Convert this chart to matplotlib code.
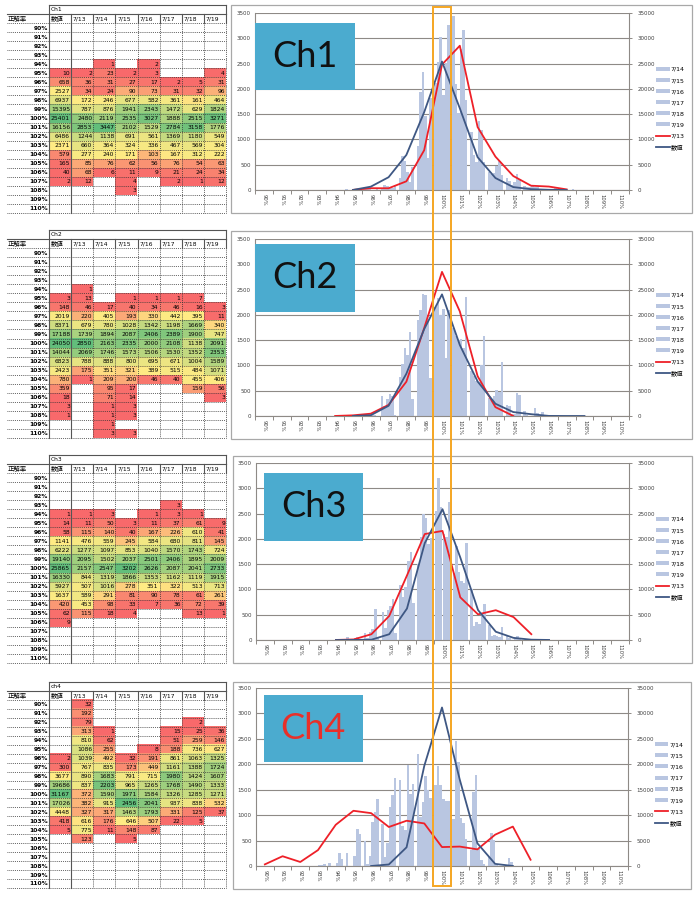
import numpy as np
import matplotlib
matplotlib.use('Agg')
import matplotlib.pyplot as plt
import matplotlib.transforms as mtransforms
from matplotlib.patches import Rectangle

plt.rcParams['font.family'] = ['DejaVu Sans', 'Noto Sans CJK JP']

N = None
rates = ['90%', '91%', '92%', '93%', '94%', '95%', '96%', '97%', '98%', '99%', '100%',
         '101%', '102%', '103%', '104%', '105%', '106%', '107%', '108%', '109%', '110%']
dates = ['7/13', '7/14', '7/15', '7/16', '7/17', '7/18', '7/19']

# Ch1
ch1_total = [N, N, N, N, N, 10, 658, 2527, 6937, 15395, 25401, 16156, 6486, 2371, 579, 165, 40, 2, N, N, N]
ch1_0713 = [N, N, N, N, N, 2, 36, 34, 172, 787, 2480, 2853, 1244, 660, 277, 85, 68, 12, N, N, N]
ch1_0714 = [N, N, N, N, 1, 23, 31, 24, 246, 876, 2119, 3447, 1138, 364, 240, 76, 6, N, N, N, N]
ch1_0715 = [N, N, N, N, N, 2, 27, 90, 677, 1941, 2535, 2102, 691, 324, 171, 62, 11, 4, 3, N, N]
ch1_0716 = [N, N, N, N, 2, 3, 17, 73, 582, 2343, 3027, 1529, 561, 336, 103, 56, 9, N, N, N, N]
ch1_0717 = [N, N, N, N, N, N, 2, 31, 361, 1472, 1888, 2784, 1369, 467, 167, 76, 21, 2, N, N, N]
ch1_0718 = [N, N, N, N, N, N, 5, 32, 161, 629, 2515, 3158, 1180, 569, 312, 54, 24, 1, N, N, N]
ch1_0719 = [N, N, N, N, N, 4, 31, 96, 464, 1824, 3271, 1776, 549, 304, 222, 63, 34, 12, N, N, N]

# Ch2
ch2_total = [N, N, N, N, N, 3, 148, 2019, 8371, 17188, 24050, 14044, 6823, 2423, 780, 359, 18, 3, 1, N, N]
ch2_0713 = [N, N, N, N, 1, 13, 46, 220, 679, 1739, 2850, 2069, 788, 175, 1, N, N, N, N, N, N]
ch2_0714 = [N, N, N, N, N, N, 17, 405, 780, 1894, 2163, 1746, 888, 351, 209, 95, 71, 1, 1, 1, 3]
ch2_0715 = [N, N, N, N, N, 1, 40, 193, 1028, 2087, 2335, 1573, 800, 321, 200, 17, 14, 3, 3, N, 3]
ch2_0716 = [N, N, N, N, N, 1, 34, 330, 1342, 2406, 2000, 1506, 695, 389, 46, N, N, N, N, N, N]
ch2_0717 = [N, N, N, N, N, 1, 46, 442, 1198, 2389, 2108, 1530, 671, 515, 40, N, N, N, N, N, N]
ch2_0718 = [N, N, N, N, N, 7, 16, 395, 1669, 1900, 1138, 1352, 1004, 484, 455, 159, N, N, N, N, N]
ch2_0719 = [N, N, N, N, N, N, 3, 11, 340, 747, 2091, 2353, 1589, 1071, 406, 56, 3, N, N, N, N]

# Ch3
ch3_total = [N, N, N, N, 1, 14, 58, 1141, 6222, 19140, 25865, 16330, 5927, 1637, 420, 62, 9, N, N, N, N]
ch3_0713 = [N, N, N, N, 1, 11, 115, 476, 1277, 2095, 2157, 844, 507, 589, 453, 115, N, N, N, N, N]
ch3_0714 = [N, N, N, N, 3, 50, 140, 559, 1097, 1502, 2547, 1319, 1016, 291, 98, 18, N, N, N, N, N]
ch3_0715 = [N, N, N, N, N, 3, 40, 245, 853, 2037, 3202, 1866, 278, 81, 33, 4, N, N, N, N, N]
ch3_0716 = [N, N, N, N, 1, 11, 167, 584, 1040, 2501, 2626, 1353, 351, 90, 7, N, N, N, N, N, N]
ch3_0717 = [N, N, N, 3, 3, 37, 226, 680, 1570, 2406, 2087, 1162, 322, 78, 36, N, N, N, N, N, N]
ch3_0718 = [N, N, N, N, 1, 61, 610, 811, 1743, 1895, 2041, 1119, 513, 61, 72, 13, N, N, N, N, N]
ch3_0719 = [N, N, N, N, N, 9, 41, 145, 724, 2009, 2733, 1915, 713, 261, 39, 1, N, N, N, N, N]

# Ch4
ch4_total = [N, N, N, N, N, N, 2, 300, 3677, 19686, 31167, 17026, 4448, 418, 5, N, N, N, N, N, N]
ch4_0713 = [32, 192, 79, 313, 810, 1086, 1039, 767, 890, 837, 372, 382, 327, 616, 775, 123, N, N, N, N, N]
ch4_0714 = [N, N, N, 1, 62, 255, 492, 835, 1683, 2203, 1590, 915, 317, 176, 11, N, N, N, N, N, N]
ch4_0715 = [N, N, N, N, N, N, 32, 173, 791, 965, 1971, 2456, 1463, 646, 148, 5, N, N, N, N, N]
ch4_0716 = [N, N, N, N, N, 8, 191, 449, 715, 1265, 1584, 2041, 1793, 507, 87, N, N, N, N, N, N]
ch4_0717 = [N, N, N, 15, 51, 188, 861, 1161, 1980, 1768, 1326, 937, 331, 22, N, N, N, N, N, N, N]
ch4_0718 = [N, N, 2, 25, 259, 736, 1063, 1388, 1424, 1490, 1285, 838, 125, 5, N, N, N, N, N, N, N]
ch4_0719 = [N, N, N, 36, 146, 627, 1325, 1724, 1607, 1333, 1271, 532, 37, N, N, N, N, N, N, N, N]

W, H = 700, 907
BAR = '#B9C6E1'
RED = '#EE2028'
NAVY = '#3E5783'
GRID = '#8E8A86'
C_LO = np.array([248, 105, 107]) / 255
C_MID = np.array([255, 235, 132]) / 255
C_HI = np.array([99, 190, 123]) / 255

fig = plt.figure(figsize=(7, 9.07), dpi=100)


def px_axes(left, top, right, bottom):
    return fig.add_axes([left / W, 1 - bottom / H, (right - left) / W, (bottom - top) / H])


def frame(left, top, right, bottom):
    fig.add_artist(Rectangle((left / W, 1 - bottom / H), (right - left) / W, (bottom - top) / H,
                             transform=fig.transFigure, fill=False, ec='#A8A8A8', lw=0.9))


def arr(vals):
    return np.array([np.nan if v is None else v for v in vals], dtype=float)


def color_scale(columns):
    # excel style 3-colour scale, min / 50th percentile / max
    vals = [v for c in columns for v in c if v is not None]
    lo, mid, hi = min(vals), np.percentile(vals, 50), max(vals)
    out = []
    for c in columns:
        col = []
        for v in c:
            if v is None:
                col.append(np.ones(3))
            elif v <= mid:
                t = (v - lo) / (mid - lo) if mid > lo else 1.0
                col.append(C_LO + t * (C_MID - C_LO))
            else:
                t = (v - mid) / (hi - mid)
                col.append(C_MID + t * (C_HI - C_MID))
        out.append(col)
    return out


def draw_table(ax, title, total, days):
    cols = [total] + days
    img = np.ones((21, 8, 3))
    img[:, 0] = np.array(color_scale([total])[0])
    for j, col in enumerate(color_scale(days)):
        img[:, j + 1] = np.array(col)
    ax.imshow(img, extent=(0, 8, 21, 0), aspect='auto', interpolation='nearest', zorder=0)
    ax.set_xlim(-1.9, 8)
    ax.set_ylim(21, -2)
    ax.axis('off')

    dotted = dict(color='#333333', lw=0.6, ls=(0, (1, 1.3)), clip_on=False)
    solid = dict(color='#555555', lw=0.8, clip_on=False)
    for r in range(22):
        ax.plot([-1.9, 8], [r, r], **dotted)
    for c in range(2, 9):
        ax.plot([c, c], [0, 21], **dotted)
        ax.plot([c, c], [-1, 0], **solid)
    ax.plot([0, 0], [-2, 21], **solid)
    ax.plot([1, 1], [-1, 21], **solid)
    ax.plot([0, 8], [-2, -2], **solid)
    ax.plot([-1.9, 8], [-1, -1], **solid)
    ax.plot([8, 8], [-2, -1], **solid)

    fs = 4.3
    ax.text(0.08, -1.45, title, ha='left', va='center', fontsize=fs)
    ax.text(-1.85, -0.45, '正解率', ha='left', va='center', fontsize=fs + 0.3)
    ax.text(0.06, -0.45, '数値', ha='left', va='center', fontsize=fs + 0.3)
    for j, d in enumerate(dates):
        ax.text(j + 1.08, -0.45, d, ha='left', va='center', fontsize=fs)
    for r, lab in enumerate(rates):
        ax.text(-0.05, r + 0.55, lab, ha='right', va='center', fontsize=fs, fontweight='bold')
        for c, col in enumerate(cols):
            if col[r] is not None:
                ax.text(c + 0.95, r + 0.55, str(col[r]), ha='right', va='center', fontsize=fs)


def draw_chart(ax, total, d13, days, name, name_color, box):
    x = np.arange(len(rates))
    width = 0.86 / 6
    bars = []
    for i, vals in enumerate(days):
        b = ax.bar(x + (i - 2.5) * width, arr(vals), width, color=BAR, lw=0, zorder=2)
        bars.append(b)
    red_line, = ax.plot(x, arr(d13), color=RED, lw=1.3, zorder=4)
    ax.set_xlim(-0.5, 20.5)
    ax.set_ylim(0, 3500)
    ax.set_yticks(range(0, 3501, 500))
    ax.grid(axis='y', color=GRID, lw=0.8, zorder=1)
    ax.set_axisbelow(True)
    ax.set_xticks(x)
    ax.set_xticklabels(rates, rotation=-90, fontsize=3.8, color='#404040')
    ax.set_xticks(np.arange(-0.5, 21, 1), minor=True)
    ax.tick_params(axis='x', which='major', length=0, pad=3)
    ax.tick_params(axis='x', which='minor', length=3, color=GRID, width=0.7)
    ax.tick_params(axis='y', length=0, pad=3, labelsize=4, labelcolor='#404040')
    for s in ['top', 'right']:
        ax.spines[s].set_visible(False)
    for s in ['left', 'bottom']:
        ax.spines[s].set_color(GRID)
        ax.spines[s].set_linewidth(0.8)

    ax2 = ax.twinx()
    navy_line, = ax2.plot(x, arr(total), color=NAVY, lw=1.3, zorder=5)
    ax2.set_ylim(0, 35000)
    ax2.set_yticks(range(0, 35001, 5000))
    ax2.tick_params(axis='y', length=4, direction='inout', color=GRID, width=0.7,
                    pad=4, labelsize=4, labelcolor='#404040')
    for s in ['top', 'left', 'bottom']:
        ax2.spines[s].set_visible(False)
    ax2.spines['right'].set_color(GRID)
    ax2.spines['right'].set_linewidth(0.8)

    x0, y0, x1, y1 = box
    ax2.add_patch(Rectangle((x0, y0), x1 - x0, y1 - y0, transform=ax2.transAxes,
                            color='#4BABCF', lw=0, zorder=6))
    ax2.text((x0 + x1) / 2, (y0 + y1) / 2, name, transform=ax2.transAxes, ha='center',
             va='center', fontsize=26, color=name_color, family='Lato', zorder=7)

    ax.legend(bars + [red_line, navy_line], dates[1:] + ['7/13', '数値'],
              loc='center left', bbox_to_anchor=(1.065, 0.46), frameon=False,
              fontsize=4.5, labelspacing=0.95, handlelength=2.2, handleheight=0.6,
              handletextpad=0.2, borderaxespad=0)
    return ax2


channels = [
    ('Ch1', ch1_total, ch1_0713, [ch1_0714, ch1_0715, ch1_0716, ch1_0717, ch1_0718, ch1_0719]),
    ('Ch2', ch2_total, ch2_0713, [ch2_0714, ch2_0715, ch2_0716, ch2_0717, ch2_0718, ch2_0719]),
    ('Ch3', ch3_total, ch3_0713, [ch3_0714, ch3_0715, ch3_0716, ch3_0717, ch3_0718, ch3_0719]),
    ('Ch4', ch4_total, ch4_0713, [ch4_0714, ch4_0715, ch4_0716, ch4_0717, ch4_0718, ch4_0719]),
]
table_titles = ['Ch1', 'Ch2', 'Ch3', 'ch4']
table_pos = [(5, 213), (230, 438), (455, 663), (682, 888)]
chart_pos = [(255, 13, 629, 190), (255, 239, 629, 416), (256, 463, 629, 640), (256, 688, 628, 866)]
frame_pos = [(231, 5, 692, 213), (231, 231, 692, 439), (233, 456, 692, 663), (233, 682, 691, 889)]
boxes = [(0.0, 0.565, 0.267, 0.944), (0.0, 0.588, 0.267, 0.972),
         (0.021, 0.559, 0.287, 0.944), (0.021, 0.584, 0.287, 0.961)]
name_colors = ['#111111', '#111111', '#111111', '#E8302A']

chart_axes = []
for k, (name, total, d13, days) in enumerate(channels):
    tt, tb = table_pos[k]
    tax = px_axes(7, tt, 226, tb)
    draw_table(tax, table_titles[k], total, [d13] + days)

    frame(*frame_pos[k])
    cax = px_axes(*chart_pos[k])
    draw_chart(cax, total, d13, days, name, name_colors[k], boxes[k])
    chart_axes.append(cax)

# orange highlight around the 100% category, spanning all four charts
trans = mtransforms.blended_transform_factory(chart_axes[0].transData, fig.transFigure)
fig.add_artist(Rectangle((rates.index('100%') - 0.5, 1 - 886 / H), 1, (886 - 7) / H,
                         transform=trans, fill=False, ec='#F5A623', lw=1.4, zorder=20))

fig.savefig('out.png', dpi=100)
